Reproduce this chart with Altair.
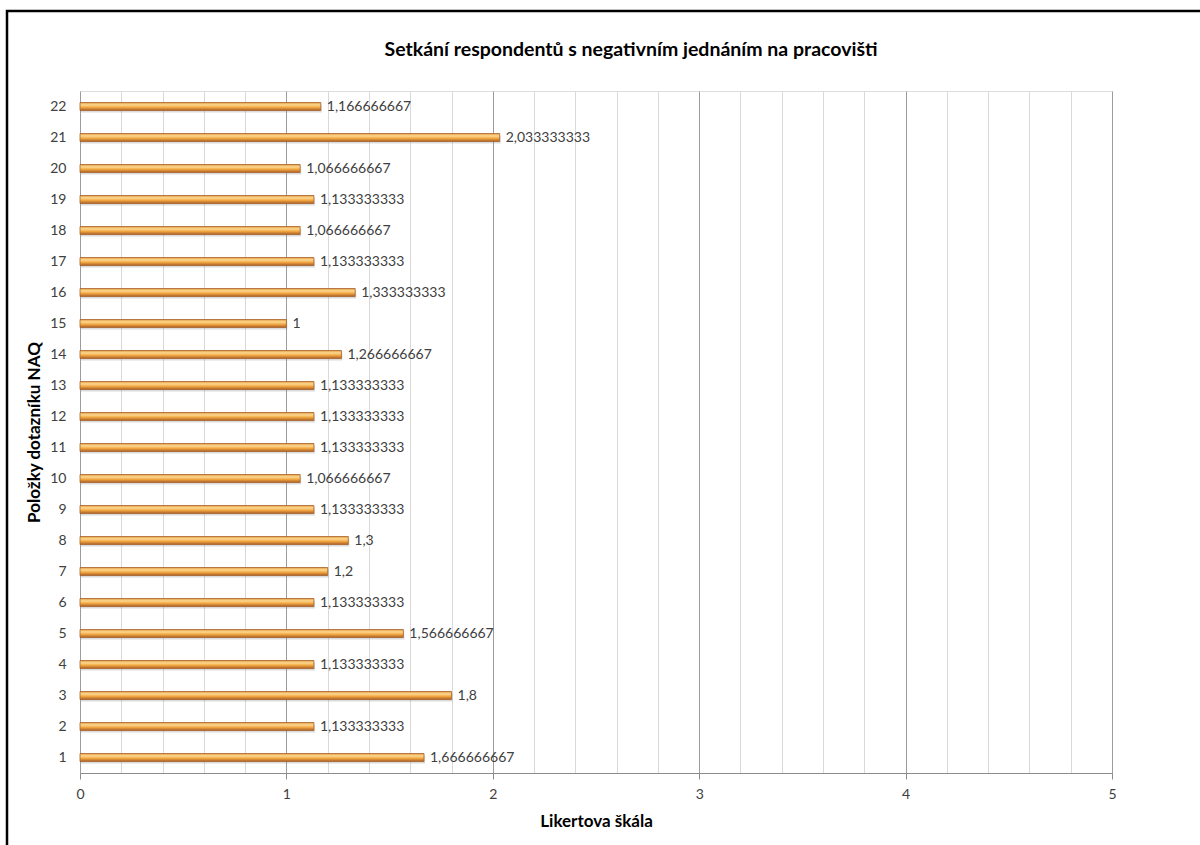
import altair as alt
import pandas as pd

# Mean Likert score per NAQ questionnaire item (Czech decimal comma, as printed)
items = [str(i) for i in range(1, 23)]
labels = [
    "1,666666667", "1,133333333", "1,8", "1,133333333", "1,566666667",
    "1,133333333", "1,2", "1,3", "1,133333333", "1,066666667",
    "1,133333333", "1,133333333", "1,133333333", "1,266666667", "1",
    "1,333333333", "1,133333333", "1,066666667", "1,133333333", "1,066666667",
    "2,033333333", "1,166666667",
]
values = [float(s.replace(",", ".")) for s in labels]

grid_vals = [round(i * 0.2, 1) for i in range(26)]
order = list(reversed(items))
chart_title = "Setkání respondentů s negativním jednáním na pracovišti"

df = pd.DataFrame({"item": items, "value": values, "label": labels})

FONT = "Lato"
W, H = 1032, 682
PAD_L, PAD_T = 80, 91

is_major = "datum.value % 1 === 0"

x_enc = alt.X(
    "value:Q",
    scale=alt.Scale(domain=[0, 5], nice=False),
    axis=alt.Axis(
        values=grid_vals,
        labelExpr=f"{is_major} ? '' + datum.value : ''",
        labelFlush=False,
        grid=True,
        gridColor={"condition": {"test": is_major, "value": "#9c9c9c"}, "value": "#d9d9d9"},
        gridWidth=1,
        tickColor={"condition": {"test": is_major, "value": "#8c8c8c"}, "value": "transparent"},
        tickSize=6,
        domainColor="#8c8c8c",
        labelFont=FONT,
        labelFontSize=14,
        labelColor="#404040",
        labelPadding=8,
        title="Likertova škála",
        titleFont=FONT,
        titleFontSize=17,
        titleFontWeight="bold",
        titleColor="#000000",
        titlePadding=12,
    ),
)

y_enc = alt.Y(
    "item:N",
    sort=order,
    scale=alt.Scale(paddingInner=0, paddingOuter=0),
    axis=alt.Axis(
        domain=False,
        ticks=False,
        grid=False,
        labelFont=FONT,
        labelFontSize=14,
        labelColor="#404040",
        labelPadding=14,
        title="Položky dotazníku NAQ",
        titleFont=FONT,
        titleFontSize=17,
        titleFontWeight="bold",
        titleColor="#000000",
        titlePadding=6,
    ),
)

base = alt.Chart(df)

shadow = base.mark_bar(
    size=8, color="#7f7f7f", opacity=0.28, yOffset=2, xOffset=1
).encode(x=x_enc, y=y_enc)

bars = base.mark_bar(
    size=8,
    stroke="#a9622a",
    strokeWidth=0.8,
    color={
        "gradient": "linear",
        "x1": 0, "y1": 0, "x2": 0, "y2": 1,
        "stops": [
            {"offset": 0.0, "color": "#e39a3b"},
            {"offset": 0.3, "color": "#fcd893"},
            {"offset": 0.6, "color": "#f3a841"},
            {"offset": 1.0, "color": "#a85f28"},
        ],
    },
).encode(x=x_enc, y=y_enc)

text = base.mark_text(
    align="left", baseline="middle", dx=6, font=FONT, fontSize=14, color="#404040"
).encode(x=alt.X("value:Q"), y=alt.Y("item:N", sort=order), text="label:N")

single = pd.DataFrame({"k": [0]})

# Outer chart-area border (runs past the right and bottom edges of the page)
frame = alt.Chart(single).mark_rect(
    fill="transparent", stroke="#000000", strokeWidth=2.5
).encode(
    x=alt.value(7 - PAD_L),
    x2=alt.value(1262 - PAD_L),
    y=alt.value(11 - PAD_T),
    y2=alt.value(900 - PAD_T),
)

title_mark = alt.Chart(single).mark_text(
    font=FONT, fontSize=19.5, fontWeight="bold", color="#000000",
    align="center", baseline="middle",
).encode(
    x=alt.value(631 - PAD_L),
    y=alt.value(50 - PAD_T),
    text=alt.value(chart_title),
)

chart = alt.layer(frame, shadow, bars, text, title_mark).properties(
    width=W,
    height=H,
    autosize=alt.AutoSizeParams(type="none"),
    padding={"left": PAD_L, "top": PAD_T, "right": 1200 - PAD_L - W, "bottom": 845 - PAD_T - H},
).configure_view(stroke=None).configure(background="white")

chart.save("out.html", embed_options={"renderer": "svg", "actions": False})
